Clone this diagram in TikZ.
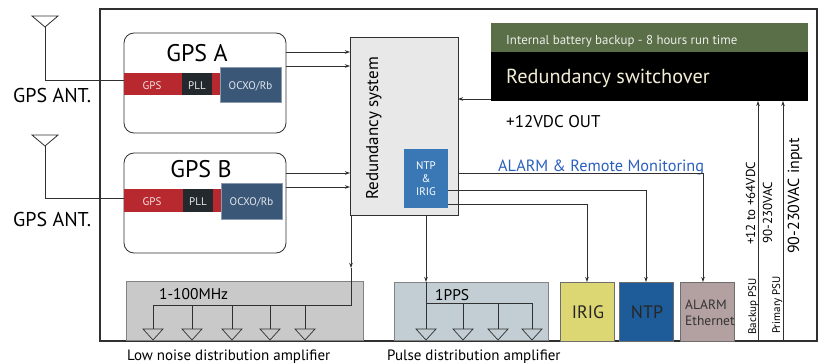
\documentclass[tikz,border=0pt]{standalone}
\usepackage{fontspec}
\setmainfont{PT Sans}
\usetikzlibrary{arrows.meta}
\definecolor{lc}{HTML}{303030}
\definecolor{gred}{HTML}{B8292F}
\definecolor{gpll}{HTML}{23292D}
\definecolor{gocx}{HTML}{3B5778}
\definecolor{bgreen}{HTML}{5A6E48}
\definecolor{nib}{HTML}{3A78B5}
\definecolor{irigc}{HTML}{DCD673}
\definecolor{ntpc}{HTML}{1D5C98}
\definecolor{alc}{HTML}{B3A0A0}
\definecolor{lnda}{HTML}{C9C9C9}
\definecolor{pdac}{HTML}{C2CED3}
\definecolor{monblue}{HTML}{2B5FC0}
\definecolor{cream}{HTML}{F2EED6}
\tikzset{
  ln/.style={draw=lc, line width=0.8pt},
  arr/.style={ln, -{Stealth[length=5pt,width=3.5pt]}},
  blk/.style={inner sep=0pt, outer sep=0pt, anchor=north west},
  fs/.style={font=\fontsize{#1}{#1}\selectfont, inner sep=0pt},
  lbl/.style={fs=#1, anchor=base west},
  clbl/.style={fs=#1, anchor=base},
  rlbl/.style={fs=#1, anchor=base west, rotate=90},
  gpsbox/.style={blk, draw=lc, line width=0.8pt, rounded corners=10pt, minimum width=162pt, minimum height=100pt},
  ampl/.style={ln, line width=0.7pt},
}
\begin{document}
\begin{tikzpicture}[x=1pt,y=-1pt]
\useasboundingbox (0,0) rectangle (823,364);
% outer frame
\node[blk, draw=lc, line width=1.3pt, minimum width=717pt, minimum height=332pt] (frame) at (100,9) {};

% GPS A
\node[gpsbox] (gpsA) at (124,33) {};
\node[clbl=24] (gpsAt) at (197,61) {GPS A};
\node[blk, fill=gred, minimum width=96pt, minimum height=22pt] (redA) at (124,73) {};
\node[blk, fill=gpll, minimum width=30pt, minimum height=22pt] (pllA) at (182,73) {};
\node[blk, fill=gocx, draw=gocx!60!white, line width=0.5pt, minimum width=61pt, minimum height=35pt] (ocxA) at (220,67) {};
\node[clbl=11, text=white!85!gred] at (152,89) {GPS};
\node[clbl=11, text=white!90!gpll] at (pllA.center |- 0,89) {PLL};
\node[clbl=11, text=white!85!gocx] at (ocxA.center |- 0,89) {OCXO/Rb};

% GPS B
\node[gpsbox] (gpsB) at (124,153) {};
\node[clbl=24] (gpsBt) at (201,177) {GPS B};
\node[blk, fill=gred, minimum width=97pt, minimum height=23pt] (redB) at (124,189) {};
\node[blk, fill=gpll, minimum width=30pt, minimum height=23pt] (pllB) at (183,189) {};
\node[blk, fill=gocx, draw=gocx!60!white, line width=0.5pt, minimum width=61pt, minimum height=36pt] (ocxB) at (221,183) {};
\node[clbl=11, text=white!85!gred] at (152,205) {GPS};
\node[clbl=11, text=white!90!gpll] at (pllB.center |- 0,205) {PLL};
\node[clbl=11, text=white!85!gocx] at (ocxB.center |- 0,205) {OCXO/Rb};

% antennas
\coordinate (antA) at (45,27);
\draw[ln] (32,16) -- (58,16) -- (antA) -- cycle;
\draw[ln] (antA) |- ([yshift=4pt]redA.west);
\node[lbl=20] (antAt) at (13,102) {GPS ANT.};
\coordinate (antB) at (45,146);
\draw[ln] (32,135) -- (58,135) -- (antB) -- cycle;
\draw[ln] (antB) |- ([yshift=2.5pt]redB.west);
\node[lbl=20] (antBt) at (13,226) {GPS ANT.};

% redundancy system
\node[blk, fill=gray!18, draw=lc, line width=0.8pt, minimum width=108pt, minimum height=178pt] (red) at (350,37) {};
\node[rlbl=17] (redt) at (378,200) {Redundancy system};
\node[blk, fill=nib, minimum width=44pt, minimum height=59pt] (ni) at (404,149) {};
\node[fs=11, text=white, align=center] at (ni.center) {NTP\\[2pt]\&\\[2pt]IRIG};

\coordinate (ya1) at (0,52); \coordinate (ya2) at (0,66);
\coordinate (yb1) at (0,173); \coordinate (yb2) at (0,187);
\draw[arr] (gpsA.east |- ya1) -- (red.west |- ya1);
\draw[arr] (gpsA.east |- ya2) -- (red.west |- ya2);
\draw[arr] (gpsB.east |- yb1) -- (red.west |- yb1);
\draw[arr] (gpsB.east |- yb2) -- (red.west |- yb2);

% switchover
\node[blk, fill=bgreen, minimum width=317pt, minimum height=29pt] (sg) at (491,23) {};
\node[blk, fill=black, minimum width=317pt, minimum height=49pt] (sb) at (491,52) {};
\node[lbl=12.9, text=white!88!bgreen] (sgt) at (506,44) {Internal battery backup - 8 hours run time};
\node[lbl=20.3, text=cream] (sbt) at (506,83) {Redundancy switchover};
\coordinate (ysw) at (0,99);
\draw[arr] (sb.west |- ysw) -- (red.east |- ysw);
\node[lbl=17] (vdc) at (506,127) {+12VDC OUT};

% PSU inputs
\coordinate (px1) at (758,0); \coordinate (px2) at (783,0);
\draw[arr] (frame.south -| px1) -- (sb.south -| px1);
\draw[arr] (frame.south -| px2) -- (sb.south -| px2);
\node[rlbl=13] at (755,245) {+12 to +64VDC};
\node[rlbl=13] at (772,244) {90-230VAC};
\node[rlbl=11] at (756,335) {Backup PSU};
\node[rlbl=11] at (780,334) {Primary PSU};
\node[rlbl=16] at (799,254) {90-230VAC input};

% monitoring outputs
\node[lbl=16.3, text=monblue] (mon) at (498,171) {ALARM \& Remote Monitoring};
\node[blk, fill=irigc, draw=lc!70, line width=0.6pt, minimum width=54pt, minimum height=59pt] (irig) at (560,282) {};
\node[blk, fill=ntpc, draw=lc!70, line width=0.6pt, minimum width=54pt, minimum height=59pt] (ntp) at (619,282) {};
\node[blk, fill=alc, draw=lc!70, line width=0.6pt, minimum width=54pt, minimum height=59pt] (alarm) at (680,282) {};
\node[clbl=18, text=black!85] at (588,318) {IRIG};
\node[clbl=18, text=black!85] at (647,318) {NTP};
\node[lbl=13.5, text=black!80] at (685,309) {ALARM};
\node[lbl=13.5, text=black!80] at (685,325) {Ethernet};
\coordinate (ym) at (0,173); \coordinate (yn) at (0,190); \coordinate (yi) at (0,204);
\coordinate (xm) at (703,0);
\draw[arr] (red.east |- ym) -- (xm |- ym) -- (xm |- alarm.north);
\draw[arr] (ni.east |- yn) -| (ntp.north);
\draw[arr] (ni.east |- yi) -| (irig.north);

% low noise distribution amplifier
\node[blk, fill=lnda, draw=lc!60, line width=0.6pt, minimum width=237pt, minimum height=59pt] (lnd) at (126,281) {};
\node[lbl=15.5] at (159,299) {1-100MHz};
\node[lbl=15] at (127,360) {Low noise distribution amplifier};
\coordinate (xl) at (351,0);
\coordinate (al) at (351,268);
\draw[arr] (red.south -| xl) -- (al);
\draw[ln] (al) -- (351,305) -- (153,305);
\foreach \x in {153,192,232,270,305}{
  \draw[ln] (\x,305) -- (\x,329);
  \draw[ampl] (\x-10,329) -- (\x+10,329) -- (\x,340) -- cycle;
}

% pulse distribution amplifier
\node[blk, fill=pdac, draw=lc!60, line width=0.6pt, minimum width=154pt, minimum height=58pt] (pda) at (394,282) {};
\node[lbl=15.5] at (435,300) {1PPS};
\node[lbl=15] at (387,360) {Pulse distribution amplifier};
\coordinate (xp) at (426,0);
\draw[arr] (red.south -| xp) -- (pda.north -| xp);
\draw[ln] (pda.north -| xp) -- (426,329);
\draw[ln] (426,303) -- (532,303);
\foreach \x in {463,498,532}{
  \draw[ln] (\x,303) -- (\x,329);
}
\foreach \x in {426,463,498,532}{
  \draw[ampl] (\x-10,329) -- (\x+10,329) -- (\x,340) -- cycle;
}
\end{tikzpicture}
\end{document}
